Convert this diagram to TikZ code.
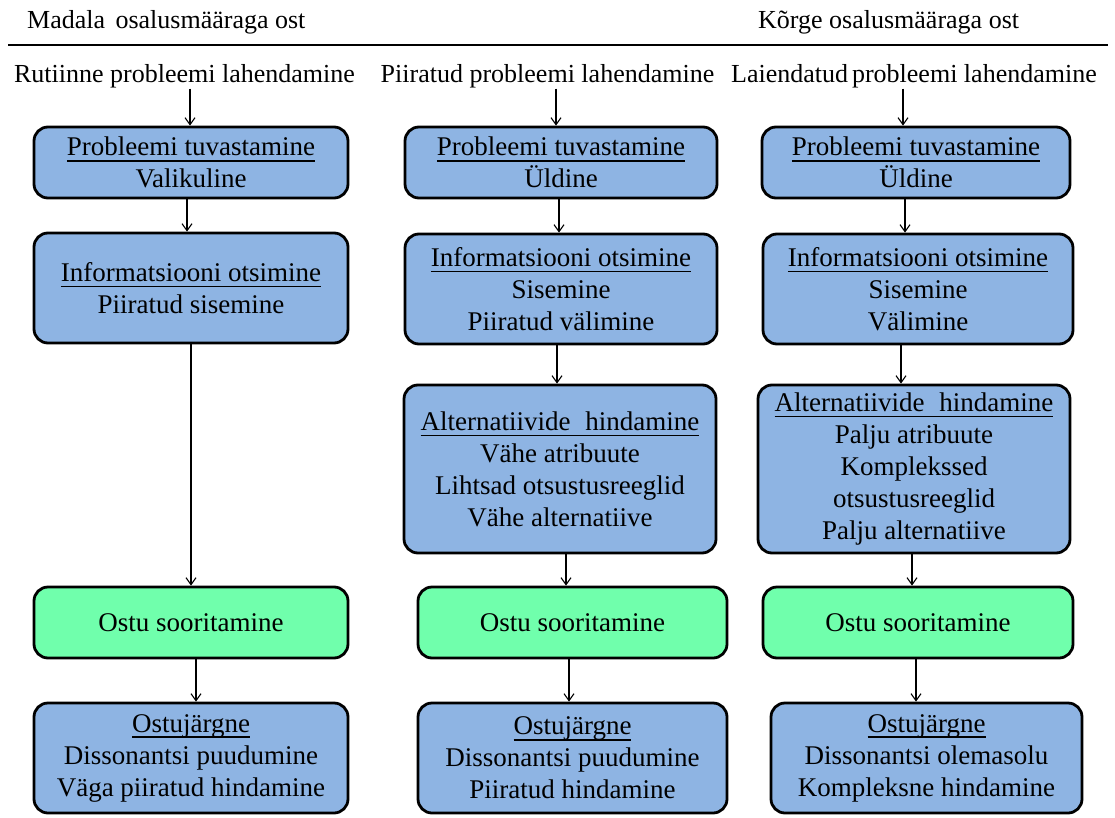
\documentclass[tikz,border=0pt]{standalone}
\usepackage{fontspec}
\setmainfont{Liberation Serif}
\usetikzlibrary{arrows.meta}

\definecolor{stageblue}{RGB}{142,180,227}
\definecolor{buygreen}{RGB}{112,255,172}

% underlined heading inside a stage box
\newcommand\hd[1]{\setbox0=\hbox{#1}\rlap{\rule[-6pt]{\wd0}{1.6pt}}\box0}

\tikzset{
  stage/.style={draw=black, line width=2.8pt, rounded corners=14pt,
    fill=stageblue, align=center, inner sep=0pt},
  buy/.style={stage, fill=buygreen},
  flow/.style={line width=1.1pt, -{Straight Barb[length=7pt,width=10pt,line width=1.1pt]}},
  lbl/.style={anchor=base, inner sep=0pt, font=\fontsize{26}{30}\selectfont}
}

\begin{document}
\begin{tikzpicture}[x=1pt, y=-1pt, font=\fontsize{27}{32}\selectfont]
\useasboundingbox (0,0) rectangle (1115,818);

% scale of involvement
\node[lbl, anchor=base west] (low) at (27,29) {Madala\hspace{0.15em} osalusmääraga ost};
\node[lbl, anchor=base west] (high) at (758,29) {Kõrge osalusmääraga ost};
\coordinate (axl) at (8,45);
\coordinate (axr) at (1108,45);
\draw[line width=1.8pt] (axl) -- (axr);

% column headings
\node[lbl] (l1) at (184.5,83) {Rutiinne probleemi lahendamine};
\node[lbl] (l2) at (547.5,83) {Piiratud probleemi lahendamine};
\node[lbl] (l3) at (914,83) {Laiendatud\hspace{-0.1em} probleemi lahendamine};

% routine problem solving
\node[stage, minimum width=314pt, minimum height=71pt] (a1) at (191,162.5)
  {\hd{Probleemi tuvastamine}\\Valikuline};
\node[stage, minimum width=314pt, minimum height=110pt] (a2) at (191,288)
  {\hd{Informatsiooni otsimine}\\Piiratud sisemine};
\node[buy, minimum width=314pt, minimum height=71pt] (a4) at (191,622.5)
  {Ostu sooritamine};
\node[stage, minimum width=314pt, minimum height=110pt] (a5) at (191,758)
  {\hd{Ostujärgne}\\Dissonantsi puudumine\\Väga piiratud hindamine};

% limited problem solving
\node[stage, minimum width=312pt, minimum height=71pt] (b1) at (561,162.5)
  {\hd{Probleemi tuvastamine}\\Üldine};
\node[stage, minimum width=312pt, minimum height=110pt] (b2) at (561,289)
  {\hd{Informatsiooni otsimine}\\Sisemine\\Piiratud välimine};
\node[stage, minimum width=312pt, minimum height=168pt] (b3) at (560,469)
  {\hd{Alternatiivide\hspace{0.3em} hindamine}\\Vähe atribuute\\Lihtsad otsustusreeglid\\Vähe alternatiive};
\node[buy, minimum width=309pt, minimum height=71pt] (b4) at (572.5,622.5)
  {Ostu sooritamine};
\node[stage, minimum width=309pt, minimum height=110pt] (b5) at (572.5,758)
  {\hd{Ostujärgne}\\Dissonantsi puudumine\\Piiratud hindamine};

% extended problem solving
\node[stage, minimum width=308pt, minimum height=71pt] (c1) at (916,162.5)
  {\hd{Probleemi tuvastamine}\\Üldine};
\node[stage, minimum width=310pt, minimum height=110pt] (c2) at (918,289)
  {\hd{Informatsiooni otsimine}\\Sisemine\\Välimine};
\node[stage, minimum width=312pt, minimum height=168pt] (c3) at (914,469)
  {\hd{Alternatiivide\hspace{0.3em} hindamine}\\Palju atribuute\\Komplekssed\\otsustusreeglid\\Palju alternatiive};
\node[buy, minimum width=310pt, minimum height=71pt] (c4) at (918,622.5)
  {Ostu sooritamine};
\node[stage, minimum width=311pt, minimum height=110pt] (c5) at (926.5,758)
  {\hd{Ostujärgne}\\Dissonantsi olemasolu\\Kompleksne hindamine};

% connectors
\draw[flow] ([xshift=-1pt]a1.north |- l1.south) -- ([xshift=-1pt]a1.north);
\draw[flow] ([xshift=-4pt]a1.south) -- ([xshift=-4pt]a1.south |- a2.north);
\draw[flow] (a2.south) -- (a2.south |- a4.north);
\draw[flow] ([xshift=5pt]a4.south) -- ([xshift=5pt]a4.south |- a5.north);

\draw[flow] ([xshift=-5pt]b1.north |- l2.south) -- ([xshift=-5pt]b1.north);
\draw[flow] ([xshift=-2pt]b1.south) -- ([xshift=-2pt]b1.south |- b2.north);
\draw[flow] ([xshift=-4pt]b2.south) -- ([xshift=-4pt]b2.south |- b3.north);
\draw[flow] ([xshift=6pt]b3.south) -- ([xshift=6pt]b3.south |- b4.north);
\draw[flow] ([xshift=-3.5pt]b4.south) -- ([xshift=-3.5pt]b4.south |- b5.north);

\draw[flow] ([xshift=-13pt]c1.north |- l3.south) -- ([xshift=-13pt]c1.north);
\draw[flow] ([xshift=-11pt]c1.south) -- ([xshift=-11pt]c1.south |- c2.north);
\draw[flow] ([xshift=-17pt]c2.south) -- ([xshift=-17pt]c2.south |- c3.north);
\draw[flow] ([xshift=-2pt]c3.south) -- ([xshift=-2pt]c3.south |- c4.north);
\draw[flow] ([xshift=-2pt]c4.south) -- ([xshift=-2pt]c4.south |- c5.north);
\end{tikzpicture}
\end{document}
